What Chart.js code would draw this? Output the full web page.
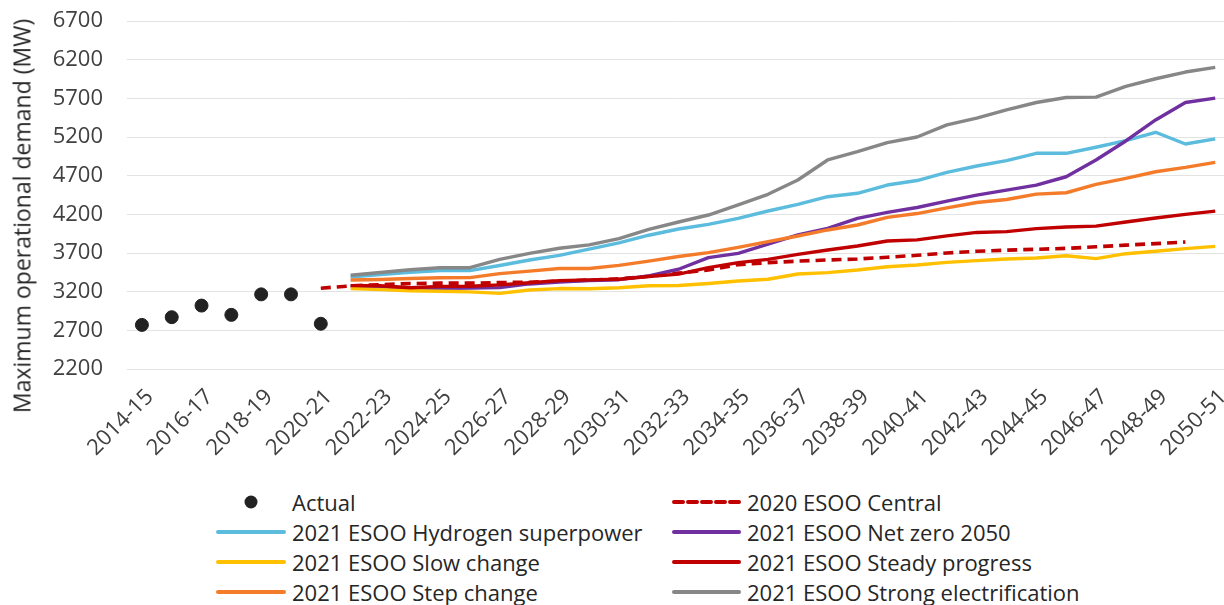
<!DOCTYPE html>
<html>
<head>
<meta charset="utf-8">
<script src="https://cdn.jsdelivr.net/npm/chart.js@4.4.1/dist/chart.umd.min.js"></script>
<style>
  html, body { margin: 0; padding: 0; background: #ffffff; overflow: hidden; width: 1224px; height: 605px; }
  #wrap { position: absolute; left: 0; top: 0; width: 1249px; height: 480px; }
  #ytitle { position: absolute; left: 22px; top: 216px; transform: translate(-50%, -50%) rotate(-90deg);
            white-space: nowrap; line-height: 1; font-family: "Open Sans", "Noto Sans", sans-serif;
            font-size: 23px; color: #262626; }
  #legend { position: absolute; left: 0; top: 486px; width: 1224px; height: 119px;
            font-family: "Open Sans", "Noto Sans", sans-serif; font-size: 22px; color: #262626; }
  .item { position: absolute; height: 30px; display: flex; align-items: center; white-space: nowrap; }
  .item svg { flex: none; margin-right: 6px; }
</style>
</head>
<body>
<div id="wrap"><canvas id="c" width="1249" height="480"></canvas></div>
<div id="ytitle"></div>
<div id="legend"></div>
<script>
const categories = ["2014-15","2015-16","2016-17","2017-18","2018-19","2019-20","2020-21","2021-22","2022-23","2023-24",
  "2024-25","2025-26","2026-27","2027-28","2028-29","2029-30","2030-31","2031-32","2032-33","2033-34",
  "2034-35","2035-36","2036-37","2037-38","2038-39","2039-40","2040-41","2041-42","2042-43","2043-44",
  "2044-45","2045-46","2046-47","2047-48","2048-49","2049-50","2050-51"];

const yTicks = [2200, 2700, 3200, 3700, 4200, 4700, 5200, 5700, 6200, 6700];
const yTitle = "Maximum operational demand (MW)";

const actual = [2770, 2870, 3020, 2900, 3165, 3165, 2785];

const esoo2020Central = [null, null, null, null, null, null, 3245, 3275, 3290, 3305,
  3310, 3310, 3318, 3322, 3335, 3350, 3365, 3400, 3440, 3480,
  3550, 3575, 3595, 3610, 3622, 3645, 3670, 3700, 3722, 3737,
  3748, 3760, 3780, 3802, 3821, 3842, null];

const hydrogenSuperpower = [null, null, null, null, null, null, null, 3390, 3422, 3450,
  3472, 3472, 3538, 3610, 3670, 3750, 3830, 3930, 4010, 4071,
  4148, 4243, 4329, 4428, 4472, 4579, 4637, 4742, 4825, 4894,
  4989, 4989, 5067, 5153, 5261, 5110, 5175];

const netZero2050 = [null, null, null, null, null, null, null, 3275, 3262, 3245,
  3245, 3248, 3252, 3300, 3325, 3345, 3355, 3405, 3490, 3640,
  3696, 3816, 3933, 4019, 4148, 4226, 4288, 4371, 4448, 4513,
  4578, 4686, 4903, 5149, 5421, 5646, 5703];

const slowChange = [null, null, null, null, null, null, null, 3240, 3226, 3212,
  3205, 3197, 3178, 3222, 3240, 3237, 3250, 3276, 3280, 3305,
  3338, 3360, 3429, 3446, 3480, 3523, 3545, 3579, 3601, 3622,
  3635, 3665, 3627, 3691, 3722, 3756, 3786];

const steadyProgress = [null, null, null, null, null, null, null, 3278, 3277, 3250,
  3268, 3270, 3288, 3315, 3343, 3352, 3361, 3396, 3427, 3510,
  3575, 3618, 3683, 3739, 3791, 3855, 3870, 3922, 3966, 3977,
  4015, 4037, 4047, 4101, 4153, 4200, 4241];

const stepChange = [null, null, null, null, null, null, null, 3350, 3358, 3370,
  3380, 3382, 3433, 3465, 3500, 3500, 3540, 3595, 3655, 3705,
  3773, 3847, 3920, 3998, 4062, 4161, 4210, 4284, 4353, 4392,
  4461, 4479, 4587, 4665, 4751, 4807, 4872];

const strongElectrification = [null, null, null, null, null, null, null, 3412, 3447, 3484,
  3510, 3510, 3618, 3695, 3762, 3805, 3885, 4006, 4101, 4191,
  4321, 4459, 4644, 4903, 5010, 5127, 5200, 5357, 5443, 5551,
  5646, 5711, 5716, 5854, 5953, 6040, 6100];

const FONT = "'Open Sans', 'Noto Sans', sans-serif";
const TEXT = "#404040";

function line(label, data, color, dashed) {
  return { label, data, borderColor: color, backgroundColor: color, borderWidth: dashed ? 3.6 : 3.4,
    borderDash: dashed ? [10, 6] : [], pointRadius: 0, pointHoverRadius: 0,
    tension: 0, spanGaps: false, fill: false, borderCapStyle: 'butt', borderJoinStyle: 'round' };
}

const datasets = [
  { label: "Actual", data: actual, showLine: false, pointRadius: 6.5, pointHoverRadius: 6.5,
    pointBackgroundColor: "#222222", pointBorderColor: "#222222", borderColor: "#222222", backgroundColor: "#222222" },
  line("2020 ESOO Central", esoo2020Central, "#c00000", true),
  line("2021 ESOO Hydrogen superpower", hydrogenSuperpower, "#5bbcdd", false),
  line("2021 ESOO Net zero 2050", netZero2050, "#7030a0", false),
  line("2021 ESOO Slow change", slowChange, "#ffc000", false),
  line("2021 ESOO Steady progress", steadyProgress, "#c00000", false),
  line("2021 ESOO Step change", stepChange, "#f47b2a", false),
  line("2021 ESOO Strong electrification", strongElectrification, "#878787", false)
];
// later series drawn on top (as in the source)
datasets.forEach((d, i) => { d.order = datasets.length - i; });

new Chart(document.getElementById('c'), {
  type: 'line',
  data: { labels: categories, datasets },
  options: {
    responsive: false,
    animation: false,
    events: [],
    layout: { padding: { top: 21, right: 2, left: 0, bottom: 0 } },
    plugins: { legend: { display: false }, tooltip: { enabled: false } },
    scales: {
      x: {
        offset: true,
        grid: { display: false, drawTicks: false },
        border: { display: false },
        ticks: {
          autoSkip: false, minRotation: 45, maxRotation: 45, padding: 15, labelOffset: 8,
          color: TEXT, font: { family: FONT, size: 22 },
          callback: (v, i) => (i % 2 === 0 ? categories[i] : '')
        },
        afterFit: (s) => { s.height = 111; }
      },
      y: {
        min: yTicks[0], max: yTicks[yTicks.length - 1],
        afterBuildTicks: (s) => { s.ticks = yTicks.map(v => ({ value: v })); },
        grid: { color: "#e3e3e3", lineWidth: 1, drawTicks: true, tickLength: 22, tickColor: 'rgba(0,0,0,0)' },
        border: { display: false },
        ticks: { color: TEXT, padding: 2, font: { family: FONT, size: 22 },
                 callback: (v) => String(v) },
        title: { display: false, text: yTitle },
        afterFit: (s) => { s.width = 127; }
      }
    }
  }
});

document.getElementById('ytitle').textContent = yTitle;

// HTML legend built from the datasets, two columns
const legend = document.getElementById('legend');
const colX = [[216, 286], [672, 741]];
const rowY = [502, 532, 562, 592];
datasets.forEach((d, i) => {
  const col = i % 2, row = Math.floor(i / 2);
  const [x0, x1] = colX[col];
  const w = x1 - x0;
  const el = document.createElement('div');
  el.className = 'item';
  el.style.left = x0 + 'px';
  el.style.top = (rowY[row] - 486 - 15) + 'px';
  let marker;
  if (d.showLine === false) {
    marker = `<svg width="${w}" height="30"><circle cx="${w / 2}" cy="15" r="6.5" fill="${d.pointBackgroundColor}"/></svg>`;
  } else {
    const dash = d.borderDash && d.borderDash.length ? `stroke-dasharray="9 5"` : '';
    marker = `<svg width="${w}" height="30"><line x1="2" y1="15" x2="${w - 2}" y2="15" stroke="${d.borderColor}" stroke-width="4" stroke-linecap="round" ${dash}/></svg>`;
  }
  el.innerHTML = marker + `<span>${d.label}</span>`;
  legend.appendChild(el);
});
</script>
</body>
</html>
